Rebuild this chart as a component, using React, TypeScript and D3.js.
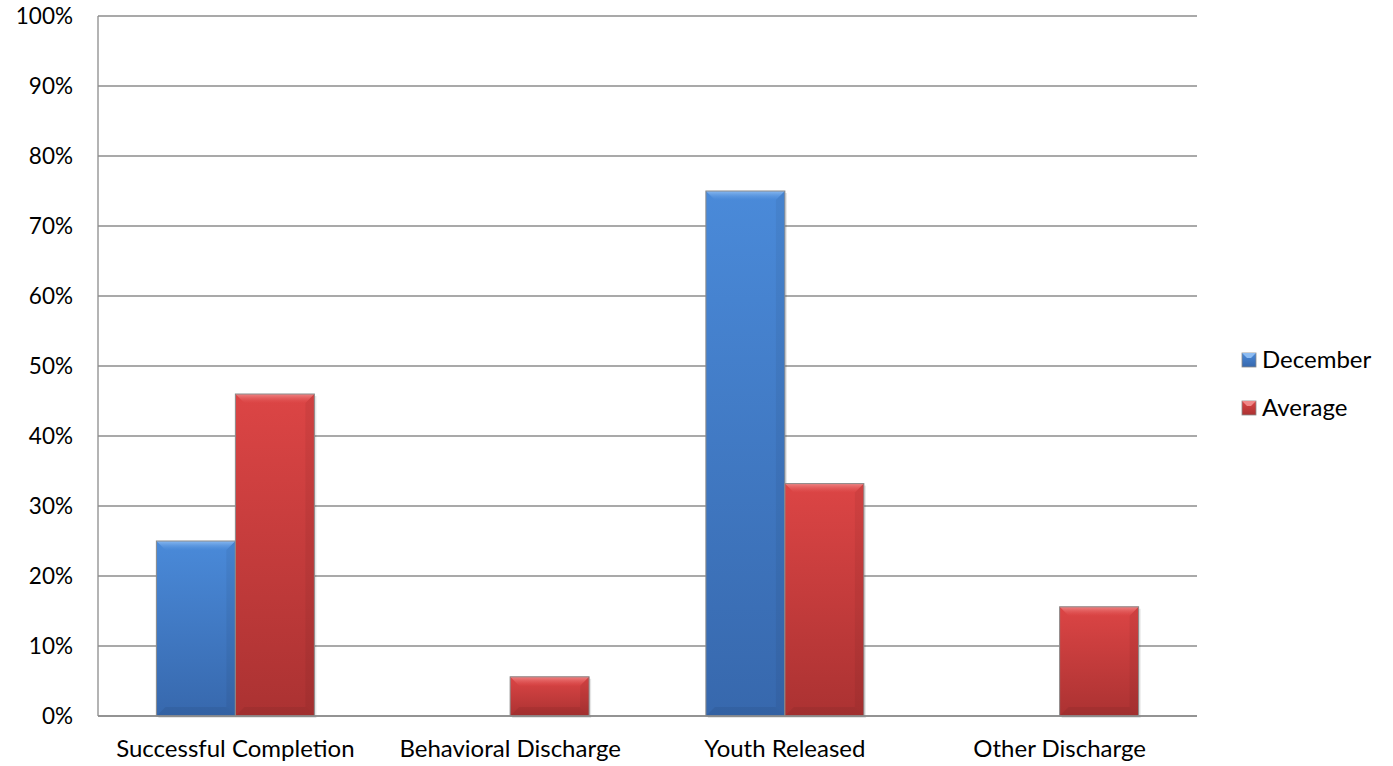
import React from "react";
import * as d3 from "d3";

const categories = ["Successful Completion", "Behavioral Discharge", "Youth Released", "Other Discharge"];
const seriesNames = ["December", "Average"];
const december = [0.25, 0, 0.75, 0];
const average = [0.46, 0.056, 0.332, 0.156];
const yTicks = [0, 0.1, 0.2, 0.3, 0.4, 0.5, 0.6, 0.7, 0.8, 0.9, 1.0];

const W = 1393, H = 766;
const margin = { left: 98, top: 16, right: 1197, bottom: 716 };
const font = "Lato, 'Open Sans', sans-serif";
const fs = 22.5;
const fsText = 24;

const palettes = [
  { top: "#4a8ad9", bottom: "#3768ad", light: "#8dbcf2" },
  { top: "#dc4545", bottom: "#ab3232", light: "#f08888" },
];

function Bar({ x, y, w, h, p, id }: any) {
  if (h <= 0) return null;
  const b = Math.min(9, h / 2, w / 2);
  return (
    <g>
      <rect x={x + 2} y={y + 2} width={w} height={h} fill="#000" opacity={0.1} />
      <rect x={x} y={y} width={w} height={h} fill={`url(#grad${id})`} />
      <polygon points={`${x},${y} ${x + w},${y} ${x + w - b},${y + b} ${x + b},${y + b}`} fill={`url(#bev${id})`} />
      <polygon points={`${x + w},${y} ${x + w - b},${y + b} ${x + w - b},${y + h - b} ${x + w},${y + h}`} fill="#000" opacity={0.05} />
      <polygon points={`${x},${y + h} ${x + b},${y + h - b} ${x + w - b},${y + h - b} ${x + w},${y + h}`} fill="#000" opacity={0.06} />
      <rect x={x} y={y} width={w} height={h} fill="none" stroke="#8a8a8a" strokeWidth={1} />
    </g>
  );
}

export default function App() {
  const x0 = d3.scaleBand<string>().domain(categories).range([margin.left, margin.right]).paddingInner(0.425).paddingOuter(0.2125);
  const x1 = d3.scaleBand<string>().domain(seriesNames).range([0, x0.bandwidth()]);
  const y = d3.scaleLinear().domain([0, 1]).range([margin.bottom, margin.top]);
  const data = [december, average];

  return (
    <svg width={W} height={H} style={{ position: "absolute", left: 0, top: 0, background: "#fff" }}>
      <defs>
        {palettes.map((p, i) => (
          <linearGradient key={i} id={`grad${i}`} x1="0" y1="0" x2="0" y2="1">
            <stop offset="0" stopColor={p.top} />
            <stop offset="1" stopColor={p.bottom} />
          </linearGradient>
        ))}
        {palettes.map((p, i) => (
          <linearGradient key={"b" + i} id={`bev${i}`} x1="0" y1="0" x2="0" y2="1">
            <stop offset="0" stopColor={p.light} stopOpacity={0.95} />
            <stop offset="1" stopColor={p.top} stopOpacity={0.3} />
          </linearGradient>
        ))}
      </defs>
      {yTicks.map((t) => (
        <g key={t}>
          <line x1={margin.left} x2={margin.right} y1={y(t)} y2={y(t)} stroke="#8c8c8c" strokeWidth={1.3} />
          <text x={73} y={y(t)} dy="0.35em" textAnchor="end" fontFamily={font} fontSize={fs} fill="#000">
            {d3.format(".0%")(t)}
          </text>
        </g>
      ))}
      <line x1={margin.left} x2={margin.left} y1={margin.top} y2={margin.bottom} stroke="#8c8c8c" strokeWidth={1.3} />
      {categories.map((c, ci) => (
        <g key={c}>
          {seriesNames.map((s, si) => {
            const v = data[si][ci];
            const bx = (x0(c) as number) + (x1(s) as number);
            return <Bar key={s} x={bx} y={y(v)} w={x1.bandwidth()} h={y(0) - y(v)} p={palettes[si]} id={si} />;
          })}
          <text x={(x0(c) as number) + x0.bandwidth() / 2} y={749} dy="0.35em" textAnchor="middle" fontFamily={font} fontSize={fsText} fill="#000">
            {c}
          </text>
        </g>
      ))}
      <line x1={margin.left} x2={margin.right} y1={y(0)} y2={y(0)} stroke="#8c8c8c" strokeWidth={1.3} />
      {seriesNames.map((s, i) => (
        <g key={s} transform={`translate(1242, ${353 + i * 48})`}>
          <rect x={0} y={0} width={14} height={14} fill={`url(#grad${i})`} stroke="#8a8a8a" strokeWidth={0.8} />
          <polygon points="0,0 14,0 9,5 5,5" fill={palettes[i].light} />
          <text x={20} y={7} dy="0.35em" fontFamily={font} fontSize={fsText} fill="#000">{s}</text>
        </g>
      ))}
    </svg>
  );
}
